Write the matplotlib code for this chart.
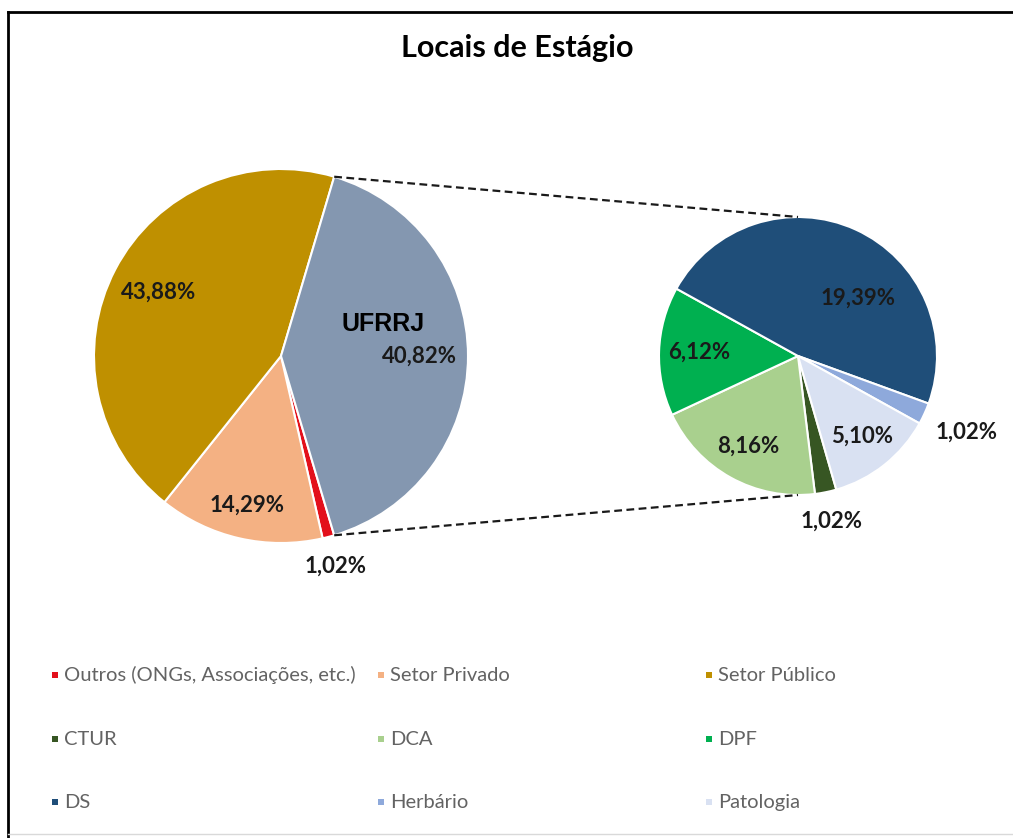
import numpy as np
import matplotlib
import matplotlib.pyplot as plt

plt.rcParams['font.family'] = ['Lato', 'DejaVu Sans']

W, H = 1013, 838

# main pie, drawn clockwise in legend order
main_labels = ["Outros (ONGs, Associações, etc.)", "Setor Privado", "Setor Público", "UFRRJ"]
main_values = [1.02, 14.29, 43.88, 40.82]
main_colors = ["#E3101B", "#F4B183", "#BF9000", "#8497B0"]

# breakdown of UFRRJ
sub_labels = ["CTUR", "DCA", "DPF", "DS", "Herbário", "Patologia"]
sub_values = [1.02, 8.16, 6.12, 19.39, 1.02, 5.10]
sub_colors = ["#375623", "#A9D08E", "#00B050", "#1F4E79", "#8EA9DB", "#D9E1F2"]


def pct(v):
    return ("%.2f" % v).replace('.', ',') + '%'


fig = plt.figure(figsize=(W / 100, H / 100), dpi=100)
ax = fig.add_axes([0, 0, 1, 1])

main_c = (281, H - 356)
main_r = 187
sub_c = (798, H - 356)
sub_r = 139

ufrrj_span = 360 * main_values[-1] / sum(main_values)
wp = dict(edgecolor='white', linewidth=1.5)
main_w, _ = ax.pie(main_values, colors=main_colors, startangle=-ufrrj_span / 2,
                   counterclock=False, center=main_c, radius=main_r, wedgeprops=wp)
sub_w, _ = ax.pie(sub_values, colors=sub_colors, startangle=-74,
                  counterclock=False, center=sub_c, radius=sub_r, wedgeprops=wp)


def put_label(w, c, r, dist, txt, shift=0, **kw):
    a = np.deg2rad((w.theta1 + w.theta2) / 2 + shift)
    ax.text(c[0] + dist * r * np.cos(a), c[1] + dist * r * np.sin(a), txt,
            ha='center', va='center', **kw)


lab = dict(fontsize=16, fontweight='bold', color='#1a1a1a')
main_dist = [1.16, 0.82, 0.74, 0.74]
for w, v, d in zip(main_w, main_values, main_dist):
    put_label(w, main_c, main_r, d, pct(v), **lab)
put_label(main_w[-1], main_c, main_r, 0.57, "UFRRJ", shift=17.6,
          fontsize=18, fontweight='bold', color='black', family='Liberation Sans')

sub_dist = [1.21, 0.74, 0.71, 0.60, 1.33, 0.74]
sub_shift = [0, 0, 0, -22, 0, 0]
for w, v, d, s in zip(sub_w, sub_values, sub_dist, sub_shift):
    put_label(w, sub_c, sub_r, d, pct(v), shift=s, **lab)

# connector lines from the UFRRJ slice to the second pie
u = main_w[-1]
for th, sgn in [(u.theta2, 1), (u.theta1, -1)]:
    a = np.deg2rad(th)
    ax.plot([main_c[0] + main_r * np.cos(a), sub_c[0]],
            [main_c[1] + main_r * np.sin(a), sub_c[1] + sgn * sub_r],
            color='#1a1a1a', lw=1.6, dashes=(3.5, 2))

ax.text(517, H - 48, "Locais de Estágio", ha='center', va='center',
        fontsize=22, fontweight='bold', color='black')

# legend, 3 equal columns like Excel
leg_labels = main_labels[:3] + sub_labels
leg_colors = main_colors[:3] + sub_colors
col_x = [55, 381, 709]
row_y = [675, 739, 802]
for i, (lb, cl) in enumerate(zip(leg_labels, leg_colors)):
    x, y = col_x[i % 3], H - row_y[i // 3]
    ax.scatter([x], [y], marker='s', s=24, color=cl, linewidths=0)
    ax.text(x + 9, y, lb, ha='left', va='center', fontsize=14.5, color='#636363')

# chart frame
ax.plot([8, 8], [0, H - 12], color='black', lw=2)
ax.plot([8, W], [H - 12, H - 12], color='black', lw=2)
ax.plot([8, W], [H - 834, H - 834], color='#d9d9d9', lw=1)

ax.set_xlim(0, W)
ax.set_ylim(0, H)
ax.set_aspect('equal')
ax.axis('off')

plt.savefig('out.png', dpi=100)
